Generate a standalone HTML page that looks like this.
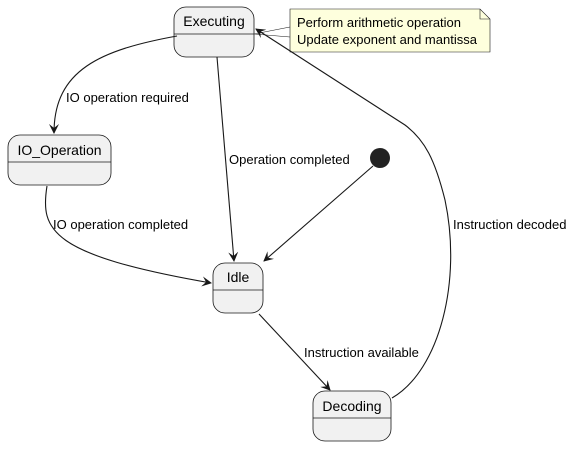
<!DOCTYPE html>
<html><head><style>
body{margin:0;background:#fff;width:573px;height:446px;overflow:hidden}
text{font-family:"Liberation Sans",sans-serif;font-size:13px;fill:#000}
</style></head><body>
<svg width="573" height="446" viewBox="0 0 573 446">
<defs><marker id="a" markerWidth="10" markerHeight="10" refX="9" refY="5" orient="auto" markerUnits="userSpaceOnUse"><path d="M0,0 L10,5 L0,10 L4,5 Z" fill="#181818"/></marker></defs>
<g fill="#f1f1f1" stroke="#181818" stroke-width="0.8">
<rect x="174" y="7" width="80" height="50" rx="12"/>
<rect x="8" y="135" width="103" height="50" rx="12"/>
<rect x="213" y="263" width="50" height="50" rx="12"/>
<rect x="313" y="391" width="78" height="50" rx="12"/>
</g>
<g stroke="#181818" stroke-width="0.8">
<line x1="174" y1="34" x2="254" y2="34"/>
<line x1="8" y1="162" x2="111" y2="162"/>
<line x1="213" y1="290" x2="263" y2="290"/>
<line x1="313" y1="418" x2="391" y2="418"/>
</g>
<text x="214" y="26" text-anchor="middle" style="font-size:14px">Executing</text>
<text x="59.5" y="155" text-anchor="middle" style="font-size:14px">IO_Operation</text>
<text x="238" y="282" text-anchor="middle" style="font-size:14px">Idle</text>
<text x="352" y="411" text-anchor="middle" style="font-size:14px">Decoding</text>
<circle cx="380" cy="158" r="10" fill="#222"/>
<path d="M290,9 H480 L490,19 V52 H290 Z" fill="#feffdd" stroke="#181818" stroke-width="0.6"/>
<path d="M480,9 V19 H490" fill="none" stroke="#181818" stroke-width="0.6"/>
<path d="M254,34 L290,27 M254,34 L290,37" stroke="#181818" stroke-width="0.6" fill="#feffdd"/>
<text x="297" y="27">Perform arithmetic operation</text>
<text x="297" y="44">Update exponent and mantissa</text>
<g fill="none" stroke="#181818" stroke-width="1.1" marker-end="url(#a)">
<path d="M177,36 C100,50 54,70 54,133"/>
<path d="M217,57 L234,261"/>
<path d="M47,186 C40,230 50,255 211,283"/>
<path d="M373,166 L264,261"/>
<path d="M259,314 L330,390"/>
<path d="M392,398 C440,370 462,280 445,200 C435,160 425,140 405,125 L256,29"/>
</g>
<text x="66" y="102">IO operation required</text>
<text x="229" y="164">Operation completed</text>
<text x="53" y="229">IO operation completed</text>
<text x="304" y="357">Instruction available</text>
<text x="453" y="229">Instruction decoded</text>
</svg>
</body></html>
